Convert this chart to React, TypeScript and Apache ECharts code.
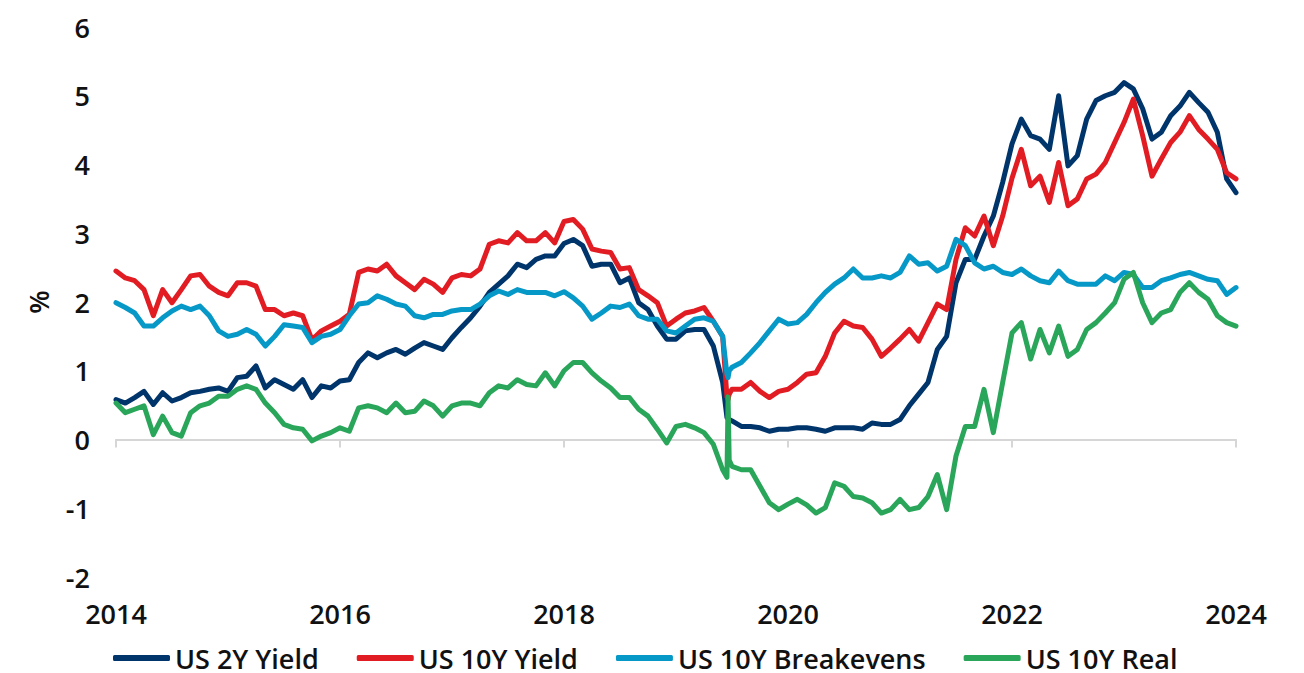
import React, { useEffect, useRef } from "react";
import * as echarts from "echarts";

// Monthly observations, positioned on the chart's own 2014–2024 axis
const START_YEAR = 2014;
const N_MONTHS = 121;

const us2y = [
  0.58, 0.53, 0.61, 0.7, 0.51, 0.68, 0.56, 0.61, 0.68, 0.7, 0.73, 0.75, 0.7, 0.9, 0.92, 1.07, 0.75, 0.87, 0.8, 0.73, 0.87, 0.61, 0.78, 0.75, 0.85,
  0.87, 1.12, 1.26, 1.19, 1.26, 1.31, 1.24, 1.33, 1.41, 1.36, 1.31, 1.48, 1.63, 1.77, 1.94, 2.14, 2.26, 2.38, 2.55, 2.5, 2.62, 2.67, 2.67, 2.85,
  2.91, 2.82, 2.52, 2.55, 2.55, 2.28, 2.35, 1.99, 1.89, 1.65, 1.46, 1.46, 1.58, 1.6, 1.6, 1.36, 0.83, 0.27, 0.19, 0.19, 0.17, 0.12, 0.15, 0.15,
  0.17, 0.17, 0.15, 0.12, 0.17, 0.17, 0.17, 0.15, 0.24, 0.22, 0.22, 0.29, 0.49, 0.66, 0.83, 1.31, 1.5, 2.28, 2.62, 2.62, 2.96, 3.25, 3.74, 4.3,
  4.66, 4.42, 4.37, 4.22, 5.0, 3.98, 4.13, 4.66, 4.93, 5.0, 5.05, 5.19, 5.1, 4.81, 4.37, 4.47, 4.71, 4.85, 5.05, 4.9, 4.76, 4.47, 3.79, 3.59,
];

const us10y = [
  2.45, 2.35, 2.31, 2.18, 1.8, 2.18, 1.99, 2.18, 2.38, 2.4, 2.23, 2.14, 2.09, 2.28, 2.28, 2.23, 1.89, 1.89, 1.8, 1.84, 1.8, 1.45, 1.58, 1.65, 1.72,
  1.82, 2.43, 2.48, 2.45, 2.55, 2.38, 2.28, 2.18, 2.33, 2.26, 2.14, 2.35, 2.4, 2.38, 2.48, 2.84, 2.89, 2.86, 3.01, 2.89, 2.89, 3.01, 2.86, 3.17,
  3.2, 3.06, 2.77, 2.74, 2.72, 2.48, 2.5, 2.18, 2.09, 1.99, 1.65, 1.75, 1.84, 1.87, 1.92, 1.72, 1.5, 0.73, 0.73, 0.83, 0.7, 0.61, 0.7, 0.73,
  0.83, 0.95, 0.97, 1.21, 1.55, 1.72, 1.65, 1.63, 1.46, 1.21, 1.33, 1.46, 1.6, 1.43, 1.7, 1.97, 1.89, 2.62, 3.08, 2.96, 3.25, 2.82, 3.25, 3.8,
  4.22, 3.69, 3.83, 3.45, 4.03, 3.4, 3.5, 3.79, 3.86, 4.03, 4.32, 4.61, 4.95, 4.42, 3.83, 4.08, 4.32, 4.47, 4.71, 4.51, 4.37, 4.22, 3.88, 3.79,
];

const us10yBreakevens = [
  1.99, 1.92, 1.84, 1.65, 1.65, 1.77, 1.87, 1.94, 1.89, 1.94, 1.8, 1.58, 1.5, 1.53, 1.6, 1.53, 1.36, 1.5, 1.67, 1.65, 1.63, 1.41, 1.5, 1.53, 1.6,
  1.8, 1.97, 1.99, 2.09, 2.04, 1.97, 1.94, 1.8, 1.77, 1.82, 1.82, 1.87, 1.89, 1.89, 1.97, 2.09, 2.16, 2.11, 2.18, 2.14, 2.14, 2.14, 2.09, 2.15,
  2.06, 1.94, 1.75, 1.84, 1.94, 1.92, 1.97, 1.8, 1.75, 1.75, 1.58, 1.55, 1.65, 1.75, 1.77, 1.72, 1.5, 1.05, 1.12, 1.26, 1.41, 1.58, 1.75, 1.68,
  1.7, 1.82, 1.99, 2.14, 2.26, 2.35, 2.48, 2.35, 2.35, 2.38, 2.35, 2.43, 2.67, 2.55, 2.57, 2.45, 2.52, 2.91, 2.82, 2.57, 2.48, 2.52, 2.43, 2.4,
  2.48, 2.38, 2.31, 2.28, 2.45, 2.31, 2.26, 2.26, 2.26, 2.38, 2.31, 2.43, 2.4, 2.21, 2.21, 2.31, 2.35, 2.4, 2.43, 2.38, 2.33, 2.31, 2.11, 2.21,
];

const us10yReal = [
  0.53, 0.39, 0.44, 0.49, 0.07, 0.34, 0.1, 0.05, 0.39, 0.49, 0.53, 0.63, 0.63, 0.73, 0.78, 0.73, 0.53, 0.39, 0.22, 0.17, 0.15, -0.02, 0.05, 0.1, 0.17,
  0.12, 0.46, 0.49, 0.46, 0.39, 0.53, 0.39, 0.41, 0.56, 0.49, 0.34, 0.49, 0.53, 0.53, 0.49, 0.68, 0.78, 0.75, 0.87, 0.8, 0.78, 0.97, 0.78, 1.0,
  1.12, 1.12, 0.97, 0.85, 0.75, 0.61, 0.61, 0.44, 0.34, 0.15, -0.05, 0.19, 0.22, 0.17, 0.1, -0.07, -0.44, -0.39, -0.44, -0.44, -0.68, -0.92, -1.02, -0.94,
  -0.87, -0.95, -1.07, -0.99, -0.63, -0.68, -0.83, -0.85, -0.92, -1.07, -1.02, -0.87, -1.02, -0.99, -0.83, -0.51, -1.02, -0.24, 0.19, 0.19, 0.73, 0.1, 0.83, 1.55,
  1.7, 1.17, 1.6, 1.26, 1.65, 1.21, 1.31, 1.6, 1.7, 1.84, 1.99, 2.33, 2.43, 1.99, 1.7, 1.84, 1.89, 2.14, 2.28, 2.14, 2.04, 1.8, 1.7, 1.65,
];

// Extra daily readings around the 2019/2020 crash (date on chart axis, value)
const crashDates = [2019.455, 2019.465, 2019.475];
const us2yCrash = [0.32, 0.3, 0.29];
const us10yCrash = [0.62, 0.58, 0.66];
const us10yBreakevensCrash = [0.95, 0.9, 1.0];
const us10yRealCrash = [-0.55, 0.62, -0.3];

const yearTicks = [2014, 2016, 2018, 2020, 2022, 2024];
const seriesNames = ["US 2Y Yield", "US 10Y Yield", "US 10Y Breakevens", "US 10Y Real"];
const seriesColors = ["#00356b", "#e21c23", "#0698c6", "#2aa65b"];
const seriesValues = [us2y, us10y, us10yBreakevens, us10yReal];
const seriesCrash = [us2yCrash, us10yCrash, us10yBreakevensCrash, us10yRealCrash];

const FONT = "'Open Sans', sans-serif";
const TEXT_COLOR = "#111111";
const AXIS_GREY = "#d6d6d6";

export default function App() {
  const ref = useRef<HTMLDivElement>(null);
  useEffect(() => {
    if (!ref.current) return;
    const chart = echarts.init(ref.current, undefined, { renderer: "svg" });
    const dates = Array.from({ length: N_MONTHS }, (_, i) => START_YEAR + i / 12);
    const buildData = (k: number) => {
      const pts: [number, number][] = seriesValues[k].map((v, i) => [dates[i], v] as [number, number]);
      crashDates.forEach((d, j) => pts.push([d, seriesCrash[k][j]]));
      return pts.sort((a, b) => a[0] - b[0]);
    };
    const xBase = { type: "value", min: 2014, max: 2024, interval: 2, position: "bottom", splitLine: { show: false } };
    chart.setOption({
      animation: false,
      backgroundColor: "#ffffff",
      grid: { left: 116, right: 68, top: 27, bottom: 96, containLabel: false, outerBoundsMode: "none" },
      legend: {
        data: seriesNames,
        left: 108,
        top: 638,
        icon: "roundRect",
        itemWidth: 57,
        itemHeight: 6,
        itemGap: 38,
        textStyle: {
          fontFamily: FONT,
          fontWeight: 600,
          fontSize: 27,
          lineHeight: 30,
          color: TEXT_COLOR,
        },
      },
      xAxis: [
        {
          ...xBase,
          axisLine: { show: false, onZero: false },
          axisTick: { show: false },
          axisLabel: {
            margin: 23,
            fontFamily: FONT,
            fontWeight: 600,
            fontSize: 27,
            color: TEXT_COLOR,
            formatter: (v: number) => (yearTicks.includes(v) ? String(v) : ""),
          },
        },
        {
          ...xBase,
          axisLine: { show: true, onZero: true, lineStyle: { color: AXIS_GREY, width: 2 } },
          axisTick: { show: true, length: 8, lineStyle: { color: AXIS_GREY, width: 2 } },
          axisLabel: { show: false },
        },
      ],
      yAxis: {
        type: "value",
        min: -2,
        max: 6,
        interval: 1,
        name: "%",
        nameLocation: "middle",
        nameRotate: 90,
        nameGap: 64,
        nameTextStyle: { fontFamily: FONT, fontWeight: 600, fontSize: 27, color: TEXT_COLOR },
        axisLine: { show: false },
        axisTick: { show: false },
        splitLine: { show: false },
        axisLabel: { margin: 26, fontFamily: FONT, fontWeight: 600, fontSize: 27, color: TEXT_COLOR },
      },
      series: seriesNames.map((name, k) => ({
        name,
        type: "line",
        xAxisIndex: 0,
        showSymbol: false,
        symbol: "none",
        color: seriesColors[k],
        lineStyle: { width: 5, color: seriesColors[k], join: "round", cap: "round" },
        data: buildData(k),
        z: 2 + k,
      })),
    });
    return () => chart.dispose();
  }, []);
  return (
    <div
      ref={ref}
      style={{ position: "fixed", left: 0, top: 0, width: 1304, height: 673 }}
    />
  );
}
